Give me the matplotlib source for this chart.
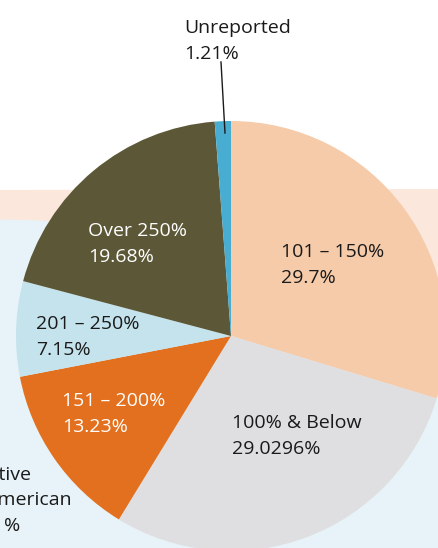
import numpy as np
import matplotlib.pyplot as plt
from matplotlib.patches import Polygon

# slice data, clockwise from 12 o'clock
categories = ['101 – 150%', '100% & Below', '151 – 200%', '201 – 250%', 'Over 250%', 'Unreported']
shares = [29.7, 29.0296, 13.23, 7.15, 19.68, 1.21]
share_labels = ['29.7%', '29.0296%', '13.23%', '7.15%', '19.68%', '1.21%']
colors = ['#F6CBAA', '#DFDFE1', '#E3701F', '#C5E3EC', '#5C5837', '#48ADD1']
text_colors = ['#1a1a1a', '#1a1a1a', 'white', '#1a1a1a', 'white', '#1a1a1a']

# label anchors (pixel x, baseline of first line)
label_pos = [(281, 257), (232, 428), (62, 406), (36, 329), (88, 236), (184, 33)]

W, H = 439, 548
plt.rcParams['font.family'] = ['Open Sans', 'DejaVu Sans']
FS = 14

fig = plt.figure(figsize=(W / 100, H / 100), dpi=100)
ax = fig.add_axes([0, 0, 1, 1])


def py(y):
    # image pixel row -> data y
    return H - y


# background: peach band and light blue rounded shape
ax.add_patch(Polygon([(0, py(190)), (W, py(189)), (W, 0), (0, 0)],
                     closed=True, fc='#FBE7DC', ec='none', zorder=0))
xs = np.linspace(-60, W + 5, 200)
cx, a, yc, b = -50, 560, 341, 122
top = yc - b * np.sqrt(np.clip(1 - ((xs - cx) / a) ** 2, 0, None))
pts = [(x, py(y)) for x, y in zip(xs, top)] + [(W + 5, -5), (-60, -5)]
ax.add_patch(Polygon(pts, closed=True, fc='#E7F3F8', ec='none', zorder=1))

# pie
ax.pie(shares, colors=colors, startangle=90, counterclock=False,
       center=(231, py(336)), radius=215,
       wedgeprops=dict(linewidth=0), frame=True)
for w in ax.patches[2:]:
    w.set_zorder(2)

gap = 26
for cat, lab, tc, (x, y) in zip(categories, share_labels, text_colors, label_pos):
    ax.text(x, py(y), cat, color=tc, fontsize=FS, ha='left', va='baseline', zorder=5)
    ax.text(x, py(y + gap), lab, color=tc, fontsize=FS, ha='left', va='baseline', zorder=5)

# leader line for the thin slice
ax.plot([221, 225], [py(62), py(133)], color='#1a1a1a', lw=1, zorder=5)

# neighbouring label cut off at the left edge (as in the source layout)
ax.text(-27, py(480), 'Native', color='#1a1a1a', fontsize=FS, ha='left', va='baseline')
ax.text(-15, py(505), 'American', color='#1a1a1a', fontsize=FS, ha='left', va='baseline')
ax.text(4, py(531), '%', color='#1a1a1a', fontsize=FS, ha='left', va='baseline')

ax.set_xlim(0, W)
ax.set_ylim(0, H)
ax.set_aspect('auto')
ax.axis('off')

fig.savefig('out.png', dpi=100)
